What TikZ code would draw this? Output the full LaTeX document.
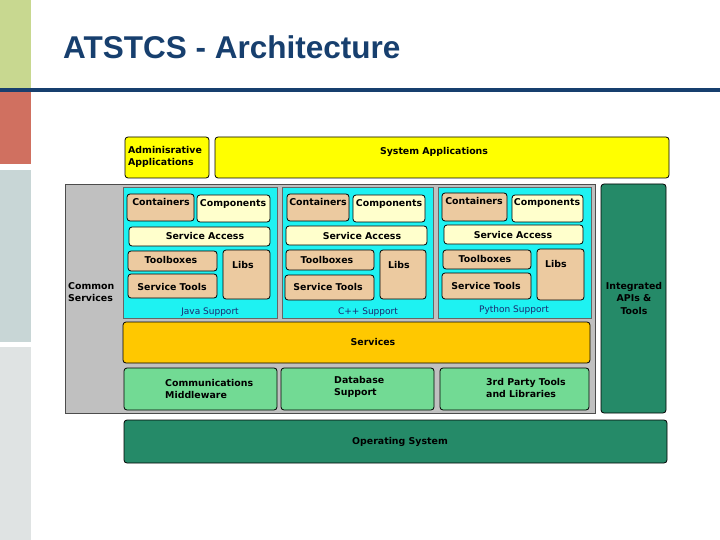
\documentclass[tikz,border=0pt]{standalone}
\usepackage{fontspec}
\setmainfont{DejaVu Sans}
\newfontfamily\titlefont{Liberation Sans}
\definecolor{sbgreen}{HTML}{C8D890}
\definecolor{sbred}{HTML}{D07060}
\definecolor{sbblue}{HTML}{C8D6D6}
\definecolor{sbgrey}{HTML}{DFE3E3}
\definecolor{titleblue}{HTML}{173F6E}
\definecolor{appyellow}{HTML}{FFFF00}
\definecolor{csgrey}{HTML}{C0C0C0}
\definecolor{langcyan}{HTML}{1EF2F2}
\definecolor{tan}{HTML}{ECCAA0}
\definecolor{lightyellow}{HTML}{FFFFCC}
\definecolor{svcorange}{HTML}{FFC800}
\definecolor{lightgreen}{HTML}{72DA94}
\definecolor{darkgreen}{HTML}{258A68}
\definecolor{labelblue}{HTML}{1A2A70}
\newcommand{\mybox}[7]{\node[#2, minimum width={#5pt-#3pt}, minimum height={#6pt-#4pt}] (#1) at ({(#3+#5)/2},{(#4+#6)/2}) {#7};}
\tikzset{
  base/.style={draw=black, line width=0.8pt, rounded corners=3pt, inner sep=0pt},
  appbox/.style={base, fill=appyellow},
  csbox/.style={draw=black!70, line width=0.8pt, fill=csgrey, inner sep=0pt},
  langbox/.style={draw=black!60, line width=0.8pt, fill=langcyan, inner sep=0pt},
  tanbox/.style={base, fill=tan},
  lybox/.style={base, fill=lightyellow},
  svcbox/.style={base, fill=svcorange},
  lgbox/.style={base, fill=lightgreen},
  dgbox/.style={base, fill=darkgreen},
  txt/.style={inner sep=0pt, font=\fontsize{9.4}{12.5}\selectfont\bfseries},
  ltxt/.style={inner sep=0pt, font=\fontsize{9}{11}\selectfont, text=labelblue},
}
\begin{document}
\begin{tikzpicture}[x=1pt,y=-1pt]
\useasboundingbox (0,0) rectangle (720,540);
% sidebar
\fill[sbgreen] (0,0) rectangle (31,88);
\fill[sbred] (0,92) rectangle (31,164);
\fill[sbblue] (0,170) rectangle (31,342);
\fill[sbgrey] (0,347) rectangle (31,540);
\fill[titleblue] (0,88) rectangle (720,92);
\node[anchor=base west, inner sep=0pt, text=titleblue, font=\titlefont\fontsize{31.5}{36}\selectfont\bfseries] (title) at (63,59) {ATSTCS - Architecture};
% applications
\mybox{admin}{appbox}{125}{137}{209}{178}{}
\node[txt, anchor=north west, align=left] (admint) at (128,146) {Adminisrative\\Applications};
\mybox{sysapp}{appbox}{215}{137}{669}{178}{}
\node[txt] (sysappt) at (434,152) {System Applications};
% common services
\mybox{cs}{csbox}{65}{184}{595}{413}{}
\node[txt, anchor=west, align=left] (cst) at (68,292) {Common\\Services};
\mybox{api}{dgbox}{601}{184}{666}{413}{}
\node[txt, align=center] (apit) at (634,298) {Integrated\\APIs \&\\Tools};
% language panels
\mybox{java}{langbox}{123}{187}{277}{318}{}
\mybox{cpp}{langbox}{282}{187}{433}{318}{}
\mybox{py}{langbox}{438}{187}{591}{318}{}
% Java
\mybox{jcont}{tanbox}{127}{194}{194}{221}{}
\node[txt] (jcontt) at (161,202) {Containers};
\mybox{jcomp}{lybox}{197}{195}{270}{222}{}
\node[txt] (jcompt) at (233,204) {Components};
\mybox{jsa}{lybox}{129}{227}{270}{246}{}
\node[txt] (jsat) at (205,236) {Service Access};
\mybox{jtb}{tanbox}{128}{251}{217}{271}{}
\node[txt] (jtbt) at (171,260) {Toolboxes};
\mybox{jst}{tanbox}{128}{274}{217}{298}{}
\node[txt] (jstt) at (172,287) {Service Tools};
\mybox{jlib}{tanbox}{223}{250}{270}{299}{}
\node[txt] (jlibt) at (243,265) {Libs};
\node[ltxt] (jlab) at (210,312) {Java Support};
% C++
\mybox{ccont}{tanbox}{287}{194}{349}{221}{}
\node[txt] (ccontt) at (318,202) {Containers};
\mybox{ccomp}{lybox}{353}{195}{425}{222}{}
\node[txt] (ccompt) at (389,204) {Components};
\mybox{csa}{lybox}{286}{226}{427}{245}{}
\node[txt] (csat) at (362,236) {Service Access};
\mybox{ctb}{tanbox}{286}{250}{374}{270}{}
\node[txt] (ctbt) at (327,260) {Toolboxes};
\mybox{cst2}{tanbox}{285}{275}{374}{300}{}
\node[txt] (cstt) at (328,287) {Service Tools};
\mybox{clib}{tanbox}{380}{250}{426}{299}{}
\node[txt] (clibt) at (399,265) {Libs};
\node[ltxt] (clab) at (368,312) {C++ Support};
% Python
\mybox{pcont}{tanbox}{442}{193}{507}{221}{}
\node[txt] (pcontt) at (474,201) {Containers};
\mybox{pcomp}{lybox}{512}{195}{583}{222}{}
\node[txt] (pcompt) at (547,203) {Components};
\mybox{psa}{lybox}{444}{225}{583}{244}{}
\node[txt] (psat) at (513,235) {Service Access};
\mybox{ptb}{tanbox}{443}{250}{531}{269}{}
\node[txt] (ptbt) at (485,259) {Toolboxes};
\mybox{pst}{tanbox}{442}{273}{531}{299}{}
\node[txt] (pstt) at (486,286) {Service Tools};
\mybox{plib}{tanbox}{537}{249}{584}{300}{}
\node[txt] (plibt) at (556,264) {Libs};
\node[ltxt] (plab) at (514,310) {Python Support};
% services
\mybox{svc}{svcbox}{123}{322}{590}{363}{}
\node[txt] (svct) at (373,342) {Services};
\mybox{comm}{lgbox}{124}{368}{277}{410}{}
\node[txt, anchor=west, align=left] (commt) at (165,389) {Communications\\Middleware};
\mybox{db}{lgbox}{281}{368}{434}{410}{}
\node[txt, anchor=west, align=left] (dbt) at (334,387) {Database\\Support};
\mybox{third}{lgbox}{440}{368}{589}{410}{}
\node[txt, anchor=west, align=left] (thirdt) at (486,388) {3rd Party Tools\\and Libraries};
% OS
\mybox{os}{dgbox}{124}{420}{667}{463}{}
\node[txt] (ost) at (400,442) {Operating System};
\end{tikzpicture}
\end{document}
